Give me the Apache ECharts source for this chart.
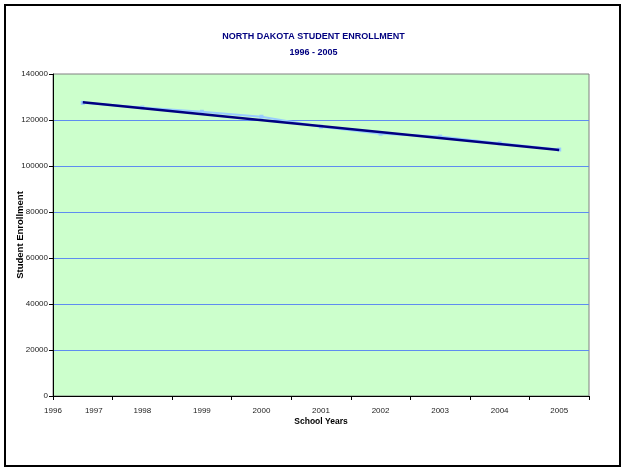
<!DOCTYPE html>
<html>
<head>
<meta charset="utf-8">
<script src="https://cdn.jsdelivr.net/npm/echarts@6/dist/echarts.min.js"></script>
<style>
html,body{margin:0;padding:0;background:#fff;}
#chart{width:627px;height:471px;}
</style>
</head>
<body>
<div id="chart"></div>
<script>
var years = ['1997','1998','1999','2000','2001','2002','2003','2004','2005'];
var enrollment = [127470, 125440, 123580, 121420, 117100, 114070, 112780, 109880, 107160];
var trendYears = ['1997','2005'];
var trendValues = [127700, 106950];
var startYearLabel = '1996';

var FONT = "'Liberation Sans Narrow','Arial Narrow','Liberation Sans',Arial,sans-serif";
var chart = echarts.init(document.getElementById('chart'), null, {renderer:'canvas'});
chart.setOption({
  backgroundColor: '#ffffff',
  animation: false,
  title: {
    text: 'NORTH DAKOTA STUDENT ENROLLMENT\n1996 - 2005',
    left: 'center',
    top: 24,
    textStyle: {fontFamily: FONT, fontSize: 9, fontWeight: 'bold', color: '#000080', lineHeight: 16}
  },
  graphic: [{
    type: 'rect', shape: {x: 5, y: 5, width: 615, height: 461},
    style: {fill: 'none', stroke: '#000', lineWidth: 2}, z: 100
  }],
  grid: {left: 53, top: 74, right: 38, bottom: 75, containLabel: false, outerBoundsMode: 'none',
    show: true, backgroundColor: '#ccffcc', borderColor: '#808080', borderWidth: 1},
  xAxis: [{
    type: 'category',
    data: years,
    boundaryGap: true,
    name: 'School Years',
    nameLocation: 'middle',
    nameGap: 21,
    nameMoveOverlap: false,
    nameTextStyle: {fontFamily: FONT, fontSize: 8.5, fontWeight: 'bold', color: '#000'},
    axisLine: {lineStyle: {color: '#000', width: 1}},
    axisTick: {show: true, alignWithLabel: false, length: 4, lineStyle: {color: '#000'}},
    axisLabel: {
      fontFamily: FONT, fontSize: 8, color: '#222', margin: 11, interval: 0,
      formatter: function(v){ return v === years[0] ? '{s|' + v + '}' : v; },
      rich: {s: {fontFamily: FONT, fontSize: 8, color: '#222', padding: [0,0,0,22]}}
    },
    splitLine: {show: false}
  }, {
    type: 'value', position: 'bottom', min: 0, max: 9, interval: 9,
    axisLine: {show: false}, axisTick: {show: false}, splitLine: {show: false},
    axisLabel: {fontFamily: FONT, fontSize: 8, color: '#222', margin: 11,
      formatter: function(v){ return v === 0 ? startYearLabel : ''; }}
  }],
  yAxis: {
    type: 'value',
    min: 0, max: 140000, interval: 20000,
    name: 'Student Enrollment',
    nameLocation: 'middle',
    nameGap: 28,
    nameMoveOverlap: false,
    nameTextStyle: {fontFamily: FONT, fontSize: 9.5, fontWeight: 'bold', color: '#000'},
    axisLine: {show: true, lineStyle: {color: '#000', width: 1}},
    axisTick: {show: true, length: 4, lineStyle: {color: '#000'}},
    axisLabel: {fontFamily: FONT, fontSize: 8, color: '#222', margin: 5,
      formatter: function(v){ return String(v); }},
    splitLine: {show: true, showMinLine: false, showMaxLine: false, lineStyle: {color: '#5f8cf0', width: 1}}
  },
  series: [{
    type: 'line',
    data: enrollment,
    symbol: 'rect', symbolSize: 4,
    lineStyle: {color: '#99ccff', width: 2},
    itemStyle: {color: '#99ccff'},
    z: 2
  }, {
    type: 'line',
    data: trendYears.map(function(y, i){ return [y, trendValues[i]]; }),
    symbol: 'none',
    lineStyle: {color: '#000080', width: 2.5},
    z: 3
  }]
});
</script>
</body>
</html>
